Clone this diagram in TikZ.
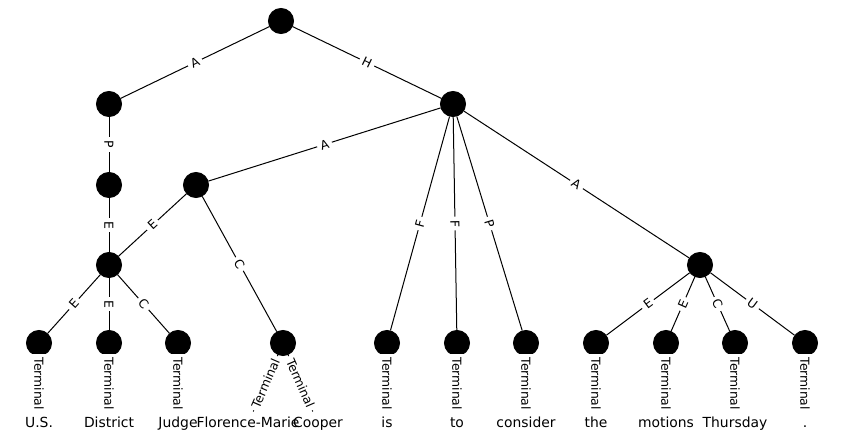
\documentclass[tikz,border=0pt]{standalone}
\usepackage{fontspec}
\setmainfont{DejaVu Sans}
\usetikzlibrary{positioning}

\begin{document}
\begin{tikzpicture}[x=1pt, y=-1pt, node distance=80.5pt, line width=1pt,
    dot/.style={draw, circle, fill=black, minimum size=25pt, inner sep=0pt},
    lbl/.style={midway, sloped, fill=white, inner sep=3.3pt, font=\fontsize{12.4}{12.4}\selectfont},
    word/.style={inner xsep=1pt, inner ysep=5pt, text height=10pt, text depth=3pt, font=\fontsize{13.9}{13.9}\selectfont}]
    \useasboundingbox (0,0) rectangle (844,444);

    % Nodes
    \node[dot] (root) at (281,21) {};
    \node[dot] (left) at (109,104) {};
    \node[dot] (right) at (453,104) {};
    \node[dot] (proc) at (109,185) {};
    \node[dot] (mid) at (196,185) {};
    \node[dot] (elab) at (109,265) {};
    \node[dot] (far) at (700,265) {};

    % Leaves
    \node[dot] (us) at (39,343) {};
    \node[dot] (district) at (109,343) {};
    \node[dot] (judge) at (178,343) {};
    \node[dot] (fmc) at (283,343) {};
    \node[dot] (is) at (387,343) {};
    \node[dot] (to) at (457,343) {};
    \node[dot] (consider) at (526,343) {};
    \node[dot] (the) at (596,343) {};
    \node[dot] (motions) at (666,343) {};
    \node[dot] (thursday) at (735,343) {};
    \node[dot] (stop) at (805,343) {};

    % Words
    \node[word, below of=us] (wus) {U.S.};
    \node[word, below of=district] (wdistrict) {District};
    \node[word, below of=judge] (wjudge) {Judge};
    \node[word] (wflorence) at (248,423.5) {Florence-Marie};
    \node[word] (wcooper) at (318,423.5) {Cooper};
    \node[word, below of=is] (wis) {is};
    \node[word, below of=to] (wto) {to};
    \node[word, below of=consider] (wconsider) {consider};
    \node[word, below of=the] (wthe) {the};
    \node[word, below of=motions] (wmotions) {motions};
    \node[word, below of=thursday] (wthursday) {Thursday};
    \node[word, below of=stop] (wstop) {.};

    % Connections
    \draw (root) -- node[lbl] {A} (left);
    \draw (root) -- node[lbl] {H} (right);
    \draw (left) -- node[lbl] {P} (proc);
    \draw (proc) -- node[lbl] {E} (elab);
    \draw (mid) -- node[lbl] {E} (elab);
    \draw (mid) -- node[lbl] {C} (fmc);
    \draw (right) -- node[lbl] {A} (mid);
    \draw (right) -- node[lbl] {F} (is);
    \draw (right) -- node[lbl] {F} (to);
    \draw (right) -- node[lbl] {P} (consider);
    \draw (right) -- node[lbl] {A} (far);
    \draw (elab) -- node[lbl] {E} (us);
    \draw (elab) -- node[lbl] {E} (district);
    \draw (elab) -- node[lbl] {C} (judge);
    \draw (far) -- node[lbl] {E} (the);
    \draw (far) -- node[lbl] {E} (motions);
    \draw (far) -- node[lbl] {C} (thursday);
    \draw (far) -- node[lbl] {U} (stop);

    % Terminals
    \draw (us) -- node[lbl] {Terminal} (wus);
    \draw (district) -- node[lbl] {Terminal} (wdistrict);
    \draw (judge) -- node[lbl] {Terminal} (wjudge);
    \draw (fmc) -- node[lbl] {Terminal} (wflorence);
    \draw (fmc) -- node[lbl] {Terminal} (wcooper);
    \draw (is) -- node[lbl] {Terminal} (wis);
    \draw (to) -- node[lbl] {Terminal} (wto);
    \draw (consider) -- node[lbl] {Terminal} (wconsider);
    \draw (the) -- node[lbl] {Terminal} (wthe);
    \draw (motions) -- node[lbl] {Terminal} (wmotions);
    \draw (thursday) -- node[lbl] {Terminal} (wthursday);
    \draw (stop) -- node[lbl] {Terminal} (wstop);
\end{tikzpicture}
\end{document}
